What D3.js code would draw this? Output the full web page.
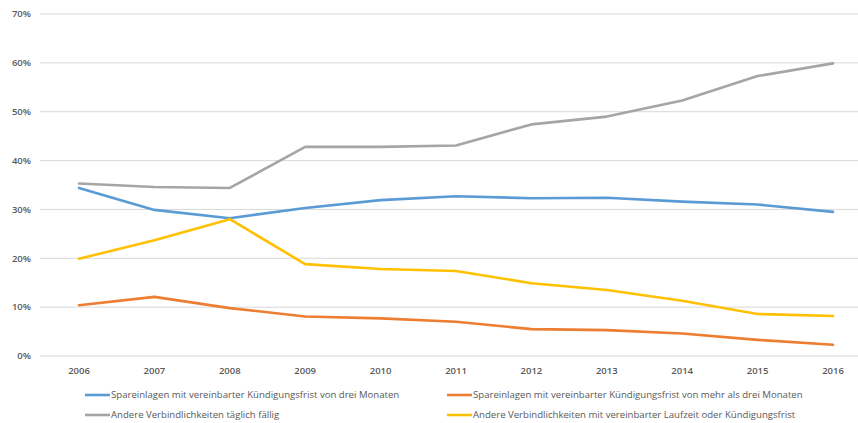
<!DOCTYPE html>
<html>
<head>
<meta charset="utf-8">
<script src="https://cdn.jsdelivr.net/npm/d3@7"></script>
<style>
  body { margin: 0; background: #fff; }
  text { font-family: "Open Sans", "Liberation Sans", sans-serif; }
</style>
</head>
<body>
<div id="chart"></div>
<script>
// Jahre und Anteile (%) je Reihe
const years = [2006, 2007, 2008, 2009, 2010, 2011, 2012, 2013, 2014, 2015, 2016];
const spareDrei = [34.4, 29.9, 28.2, 30.3, 31.9, 32.7, 32.3, 32.4, 31.6, 31.0, 29.5];
const spareMehr = [10.4, 12.1, 9.8, 8.1, 7.7, 7.0, 5.5, 5.3, 4.6, 3.3, 2.3];
const andereTaeglich = [35.3, 34.6, 34.4, 42.8, 42.8, 43.1, 47.4, 49.0, 52.3, 57.3, 59.9];
const andereLaufzeit = [19.9, 23.7, 28.0, 18.8, 17.8, 17.4, 14.9, 13.5, 11.3, 8.6, 8.2];
const yTicks = [0, 10, 20, 30, 40, 50, 60, 70];

const series = [
  {name: "Spareinlagen mit vereinbarter Kündigungsfrist von drei Monaten", values: spareDrei, color: "#5B9BD5"},
  {name: "Spareinlagen mit vereinbarter Kündigungsfrist von mehr als drei Monaten", values: spareMehr, color: "#ED7D31"},
  {name: "Andere Verbindlichkeiten täglich fällig", values: andereTaeglich, color: "#A5A5A5"},
  {name: "Andere Verbindlichkeiten mit vereinbarter Laufzeit oder Kündigungsfrist", values: andereLaufzeit, color: "#FFC000"}
];

const width = 858, height = 423;
const svg = d3.select("#chart").append("svg")
  .attr("width", width).attr("height", height);

const x = d3.scalePoint().domain(years).range([79, 833]);
const y = d3.scaleLinear().domain([0, 70]).range([356, 14]);

// gridlines
svg.append("g").selectAll("line").data(yTicks).join("line")
  .attr("x1", 40).attr("x2", width)
  .attr("y1", d => y(d)).attr("y2", d => y(d))
  .attr("stroke", "#D9D9D9").attr("stroke-width", 1);

// y axis labels
svg.append("g").selectAll("text").data(yTicks).join("text")
  .attr("x", 31).attr("y", d => y(d)).attr("dy", "0.35em")
  .attr("text-anchor", "end")
  .attr("font-size", 9.5).attr("font-weight", 600).attr("fill", "#595959")
  .text(d => d + "%");

// x axis labels
svg.append("g").selectAll("text").data(years).join("text")
  .attr("x", d => x(d)).attr("y", 371).attr("dy", "0.35em")
  .attr("text-anchor", "middle")
  .attr("font-size", 9.5).attr("font-weight", 600).attr("fill", "#595959")
  .text(d => d);

const line = d3.line()
  .x((d, i) => x(years[i]))
  .y(d => y(d));

svg.append("g").selectAll("path").data(series).join("path")
  .attr("d", d => line(d.values))
  .attr("fill", "none")
  .attr("stroke", d => d.color)
  .attr("stroke-width", 2.6)
  .attr("stroke-linejoin", "round")
  .attr("stroke-linecap", "round");

// legend
const legendPos = [[85, 395], [447, 395], [85, 415], [447, 415]];
const legend = svg.append("g").selectAll("g").data(series).join("g")
  .attr("transform", (d, i) => `translate(${legendPos[i][0]},${legendPos[i][1]})`);
legend.append("line")
  .attr("x1", 0).attr("x2", 25).attr("y1", 0).attr("y2", 0)
  .attr("stroke", d => d.color).attr("stroke-width", 2.6);
legend.append("text")
  .attr("x", 26).attr("dy", "0.35em")
  .attr("font-size", 9.6).attr("fill", "#595959")
  .text(d => d.name);
</script>
</body>
</html>
